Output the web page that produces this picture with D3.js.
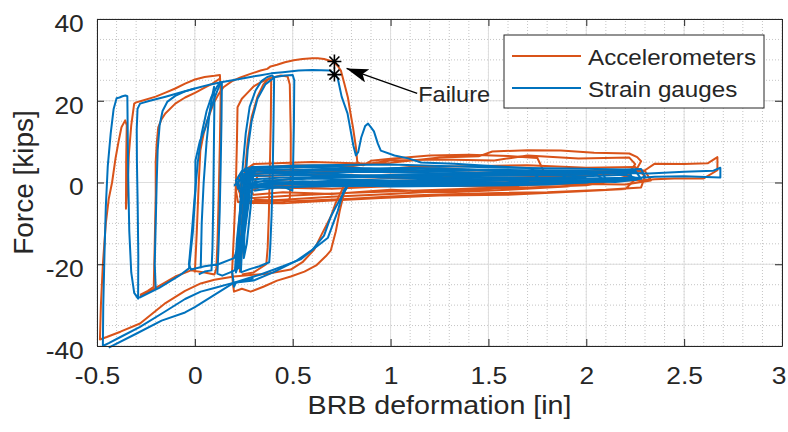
<!DOCTYPE html>
<html>
<head>
<meta charset="utf-8">
<script src="https://cdn.jsdelivr.net/npm/d3@7"></script>
<style>
  body { margin: 0; background: #fff; }
  text { font-family: "Liberation Sans", Arial, Helvetica, sans-serif; fill: #262626; }
</style>
</head>
<body>
<script>
// ---- data ----
const xTicks = [-0.5, 0, 0.5, 1, 1.5, 2, 2.5, 3];
const yTicks = [-40, -20, 0, 20, 40];
const seriesNames = ["Accelerometers", "Strain gauges"];
const seriesColors = ["#D95319", "#0072BD"];
const failurePoints = [[0.713, 29.6], [0.713, 26.4]];

// accelerometer-based force / deformation, one array per traced branch
const accelLoops = [
  [[0.24,0],[0.27,3.5],[0.255,-6],[0.23,-15],[0.21,-20.5],[0.225,-10],[0.25,0],[0.28,3.8],[0.26,-8],[0.24,-17],[0.23,-21],[0.245,-9],[0.27,1]],
  [[0.76,-1],[0.72,-5],[0.695,-8.3],[0.65,-12.5],[0.61,-16.4],[0.55,-19.5],[0.49,-21.3],[0.37,-22.3],[0.2,-23],[0.1,-23.8],[0.03,-24.7],
   [-0.05,-26.5],[-0.15,-29.5],[-0.28,-34.5],[-0.38,-36.5],[-0.45,-37.8],[-0.485,-38.4],[-0.48,-30],[-0.47,-20],[-0.455,-10],[-0.44,-4],
   [-0.423,0],[-0.405,6],[-0.39,10],[-0.375,13.5],[-0.356,15.2],[-0.348,14],[-0.351,5],[-0.352,-6.4],[-0.345,-2],[-0.337,7],[-0.325,14],
   [-0.31,19.3],[-0.3,19.6],[-0.27,20],[-0.2,21],[-0.15,22],[-0.1,23],[-0.05,24.2],[0,25.2],[0.05,25.8],[0.1,26.1],[0.128,26.3],
   [0.132,22],[0.128,10],[0.122,-3],[0.116,-14],[0.11,-21],[0.1,-22.5],[0.05,-22],[-0.02,-21.5],[-0.1,-23],[-0.2,-25.8],[-0.28,-27.8]],
  [[-0.28,-27.5],[-0.24,-26.5],[-0.21,-25.5],[-0.205,-15],[-0.2,-3],[-0.2,5],[-0.195,9.5],[-0.187,13.5],[-0.17,15.5],[-0.151,16.9],
   [-0.1,19.3],[-0.05,20.8],[0.003,22],[0.05,23.2],[0.09,24.2],[0.13,25.5]],
  [[0.19,-22],[0.2,-12],[0.21,0],[0.215,10],[0.218,18.4],[0.24,20.5],[0.27,22],[0.3,23.5],[0.336,24.5],[0.39,25.6],[0.44,26.2],
   [0.474,25.9],[0.485,24],[0.49,12],[0.49,2],[0.485,-4],[0.45,-5],[0.35,-4.5],[0.25,-4.8]],
  [[0.23,-22],[0.24,-10],[0.255,2],[0.27,10],[0.29,16],[0.32,21],[0.35,24],[0.38,25.5],[0.39,25],[0.388,15],[0.383,3],[0.378,-8],
   [0.372,-16],[0.365,-20],[0.3,-22],[0.24,-22.5]],
  [[0.19,-22],[0.195,-25],[0.2,-26.7],[0.24,-26],[0.285,-26.7],[0.35,-25.5],[0.42,-24],[0.49,-23],[0.56,-21.8],[0.62,-20.3],
   [0.67,-18],[0.695,-16.6],[0.72,-12],[0.74,-7],[0.76,-3],[0.78,0]],
  [[0,-22],[0.01,-12],[0.02,0],[0.028,7.8],[0.045,12],[0.064,15.2],[0.095,19.3],[0.12,21.5],[0.146,23.3],[0.19,24.8],[0.233,25.7],
   [0.28,26.5],[0.336,27.4],[0.37,27.8],[0.387,28.4],[0.42,28.8],[0.46,29.4],[0.505,29.9],[0.55,30.2],[0.6,30.4],[0.628,30.4],
   [0.66,30.2],[0.69,29.8],[0.71,29.5],[0.73,28.5],[0.746,27.4],[0.765,24],[0.782,20.8],[0.795,17],[0.808,13.5],[0.823,8.6],
   [0.83,5],[0.86,4.2],[0.9,5.3],[1,5.8],[1.2,6.6],[1.4,6.8],[1.6,6.5],[1.75,6],[1.78,3],[1.75,0],[1.6,-1.2],[1.3,-2],[1,-2.8],
   [0.7,-3.5],[0.45,-4.2],[0.3,-4.6],[0.22,-4.8],[0.21,-2],[0.24,2.5],[0.3,4.5],[0.6,5],[0.9,4.6],[1,4.8],[1.25,6.1],[1.45,6.4],
   [1.52,7.6],[1.7,7.9],[1.87,7.8],[2.04,7.3],[2.22,7.1],[2.26,6.2],[2.28,5.2],[2.26,3.5],[2.2,1],[2,-0.7],[1.7,-1.2],[1.4,-1.5],
   [1.1,-2],[0.8,-2.5],[0.5,-3.2],[0.3,-3.8],[0.23,-3.5],[0.24,0],[0.28,3.5],[0.5,4.2],[0.8,4],[1,5.4],[1.25,5.6],[1.53,5.4],
   [1.7,6.6],[1.96,5.9],[2.22,6.1],[2.25,4.5],[2.2,1],[1.9,-1],[1.6,-1.8],[1.3,-2.4],[1,-1.8],[0.7,-2.8],[0.45,-2.4],[0.3,-3],
   [0.26,-1],[0.3,2],[0.6,3],[1,2.5],[1.4,3],[1.8,2.6],[2.2,2.9],[2.3,2.8],[2.33,0.5],[2.2,-0.5],[1.9,-0.3],[1.5,-1],[1.1,-0.7],
   [0.7,-1.5],[0.4,-1.2],[0.3,-0.5],[0.32,1.5],[0.6,2],[1,1.5],[1.5,2.2],[2,2],[2.3,3],[2.35,4.6],[2.5,4.5],[2.62,4.7],[2.67,6.2],
   [2.67,3],[2.6,1],[2.45,1],[2.35,0.8],[2.3,0.6],[2,0.2],[1.5,0],[1,-0.5],[0.6,-1],[0.4,-0.8]],
  [[0.3,-4.2],[0.5,-4.6],[0.8,-4],[1,-3.4],[1.2,-3],[1.5,-2.6],[1.8,-2.4],[2.1,-1.8],[2.28,-1.2],[2.3,1.5],[2.25,3.8],[2,3.6],
   [1.7,4.2],[1.4,4],[1.1,3.8],[0.8,2.5],[0.5,3.2],[0.28,2.6],[0.22,-1.5],[0.25,-5],[0.45,-5.1],[0.7,-4.4],[0.95,-3.8],[1.25,-3.2],
   [1.6,-3],[1.95,-2.2],[2.2,-1.6],[2.25,0.8],[2.15,2.2],[1.9,1.4],[1.5,1.8],[1.1,1],[0.7,1.5],[0.4,0.5],[0.27,-2.5]]
];

// strain-gauge-based force / deformation
const gaugeLoops = [
  [[0.25,0.5],[0.27,2.6],[0.26,-4],[0.24,-12],[0.215,-19],[0.205,-21.5],[0.215,-14],[0.235,-5],[0.255,1.5],[0.28,3],[0.265,-6],
   [0.24,-15],[0.22,-20.5],[0.21,-22],[0.225,-13],[0.245,-3],[0.27,2],[0.29,3.2],[0.275,-5],[0.25,-14],[0.23,-19],[0.225,-21],
   [0.24,-11],[0.26,-1],[0.3,2.8],[0.285,-6],[0.265,-15],[0.25,-18.5],[0.255,-10],[0.28,0],[0.31,3]],
  [[0.28,-3],[0.25,-12],[0.2,-18.5],[0.12,-20],[0.05,-20.5],[-0.02,-21.3],[-0.03,-20],[-0.015,-12],[0,-3],[0.015,5],[0.035,12],
   [0.06,17.5],[0.085,21],[0.11,23.2],[0.13,24.6],[0.138,24.3],[0.136,15],[0.132,4],[0.127,-7],[0.12,-17],[0.115,-22.3],[0.14,-22.8],
   [0.19,-21.8],[0.22,-21]],
  [[0.03,-21],[0.035,-10],[0.045,0],[0.06,10],[0.075,17],[0.09,21.5],[0.098,23.4],[0.1,20],[0.097,8],[0.094,-5],[0.09,-16],
   [0.085,-21.5],[0.05,-21.8],[0.02,-22.5]],
  [[0.22,-21],[0.225,-14],[0.232,-5],[0.245,4],[0.26,12],[0.28,18.5],[0.31,22.5],[0.34,24.8],[0.37,25.8],[0.395,26.2],[0.405,25.5],
   [0.402,15],[0.398,3],[0.392,-8],[0.385,-16],[0.38,-19.5],[0.33,-20.5],[0.28,-21.2],[0.235,-22]],
  [[0.235,-22],[0.245,-12],[0.255,-2],[0.27,8],[0.29,15],[0.32,20.5],[0.36,24],[0.41,25.8],[0.46,26.2],[0.5,26.3],[0.508,25],
   [0.506,14],[0.502,4],[0.498,-2],[0.45,-1],[0.38,-1.5],[0.3,-2]],
  [[-0.285,-28.2],[-0.18,-25.7],[-0.08,-22.8],[-0.03,-21],[-0.01,-12],[0.003,-2],[0.003,5.4],[0.025,10],[0.054,13.5],[0.075,17],
   [0.095,20],[0.115,22.5],[0.13,24.2]],
  [[-0.2,-26],[-0.205,-20],[-0.2,-10],[-0.195,0],[-0.19,8],[-0.18,14],[-0.165,17.5],[-0.14,19.8],[-0.1,21.2],[-0.05,22.3],[0,23]],
  [[-0.44,-40.4],[-0.3,-37],[-0.17,-33.8],[-0.05,-31.8],[0,-30.5],[0.1,-27.5],[0.2,-24.5],[0.3,-24],[0.4,-22],[0.52,-19.1],
   [0.6,-16.5],[0.68,-13.5],[0.73,-7],[0.76,-2],[0.8,0.5]],
  [[0.19,-21.5],[0.2,-25.5],[0.21,-24.5],[0.3,-23.5]],
  [[0.78,-1],[0.72,-6],[0.695,-8.3],[0.66,-13],[0.6,-16.5],[0.54,-18.8],[0.45,-20.5],[0.336,-22.5],[0.2,-24.5],[0.1,-25.8],
   [0.03,-26.7],[-0.05,-28.5],[-0.15,-31.5],[-0.28,-35.3],[-0.38,-37.8],[-0.44,-39.3],[-0.47,-40],[-0.468,-30],[-0.462,-18],
   [-0.455,-6],[-0.445,4],[-0.43,12],[-0.415,18],[-0.4,20.6],[-0.385,20.8],[-0.37,21.1],[-0.355,21.3],[-0.345,21.1],[-0.343,12],
   [-0.34,0],[-0.335,-12],[-0.325,-22],[-0.31,-27],[-0.29,-28.4],[-0.289,-18],[-0.292,-6],[-0.296,5],[-0.297,13],[-0.293,18],
   [-0.28,19.3],[-0.23,20],[-0.15,21],[-0.074,22],[0,23],[0.08,24],[0.14,24.6],[0.2,25.1],[0.27,25.7],[0.33,26.2],[0.39,26.7],
   [0.45,27],[0.53,27.4],[0.6,27.5],[0.69,27.4],[0.713,26.6],[0.73,25.5],[0.75,21],[0.78,16.9],[0.81,9],[0.823,6.6],[0.835,7.5],
   [0.85,11],[0.87,13.8],[0.885,14.4],[0.9,13.5],[0.915,12.5],[0.935,9.5],[0.95,7.8],[1.02,6.6],[1.09,5.9],[1.156,4.9],[1.325,4.6],
   [1.45,4.2],[1.6,3.8],[1.72,3.5],[1.75,1.5],[1.7,0.2],[1.5,-0.3],[1.2,-0.6],[0.9,-0.8],[0.6,-1],[0.35,-1.2],[0.22,-1.5],[0.21,0.5],
   [0.24,2.8],[0.4,3.2],[0.7,3],[1,2.8],[1.3,3.1],[1.6,3],[1.85,2.9],[1.9,1],[1.85,-0.2],[1.5,-0.5],[1.1,-0.2],[0.8,-0.6],[0.5,-0.4],
   [0.28,-0.8],[0.23,-2.2],[0.22,1.2],[0.26,3.5],[0.5,3.8],[0.8,3.3],[1.1,3.6],[1.4,3.2],[1.7,3],[2,2.8],[2.08,2.6],[2.1,0.8],[2,0],
   [1.7,-0.1],[1.3,0.2],[0.9,-0.3],[0.55,0.3],[0.3,-0.5],[0.24,-1.8],[0.235,0.8],[0.27,2.2],[0.55,2.4],[0.9,2.6],[1.3,2.2],[1.7,2.5],
   [2.1,2.3],[2.22,2.5],[2.24,0.6],[2.15,0.1],[1.8,0.4],[1.4,0.7],[1,0.5],[0.6,1],[0.35,0.4],[0.26,-0.6],[0.25,1.6],[0.29,3.8],
   [0.6,4.2],[1,4.4],[1.3,4],[1.6,3.6],[1.9,3.4],[2.2,3.2],[2.28,3.3],[2.3,1.5],[2.25,0.6],[2,0.9],[1.6,1.2],[1.2,1],[0.8,1.4],
   [0.45,1.2],[0.3,0.8],[0.27,2],[0.32,3],[0.6,1.8],[1,1.7],[1.4,1.9],[1.8,2.1],[2.25,2.3],[2.32,2.2],[2.5,2.6],[2.65,2.9],
   [2.685,3.6],[2.685,1.2],[2.5,1.5],[2.35,1.4],[2.3,1.2],[2,1],[1.6,0.5],[1.2,0.3],[0.8,0.6],[0.5,0],[0.35,0.2]],
  [[0.22,0.5],[0.3,2.2],[0.6,2.9],[0.9,3.4],[1.2,2.7],[1.5,2.4],[1.8,2.2],[2.05,2],[2.1,0.3],[1.8,-0.5],[1.4,-0.8],[1,-1],
   [0.7,-0.4],[0.45,-1.3],[0.25,-0.6],[0.23,1.8],[0.35,3.6],[0.7,3.9],[1,3.1],[1.25,3.5],[1.55,2.8],[1.9,2.6],[2.25,2.9],[2.28,0.9],
   [2.1,0.5],[1.7,0.8],[1.3,0.1],[0.9,0.4],[0.55,-0.2],[0.3,0.3]],
  [[0.2,-0.8],[0.25,1.5],[0.5,1.9],[0.8,1.6],[1.15,2],[1.45,1.6],[1.75,1.8],[2,1.5],[2.2,1.9],[2.26,1],[2,0.4],[1.6,-0.2],
   [1.25,-0.4],[0.95,0.2],[0.65,-0.3],[0.4,0],[0.28,-1],[0.24,0.8],[0.3,3],[0.45,2.6],[0.7,2.2],[0.95,1.2],[1.2,1.4],[1.6,1],[2,1.2]]
];

// ---- layout ----
const width = 788, height = 432;
const margin = { top: 19, right: 6, bottom: 86, left: 97 };
const stretch = "scale(1.1,1)";

const svg = d3.select("body").append("svg")
  .attr("width", width)
  .attr("height", height);

const x = d3.scaleLinear().domain([-0.5, 3]).range([margin.left, width - margin.right]);
const y = d3.scaleLinear().domain([-40, 40]).range([height - margin.bottom, margin.top]);

// grid
const grid = svg.append("g").attr("id", "grid");
grid.selectAll(".xminor").data(d3.range(-5, 31).map(i => i / 10)).enter().append("line")
  .attr("x1", d => x(d)).attr("x2", d => x(d))
  .attr("y1", y(-40)).attr("y2", y(40))
  .attr("stroke", "#c4c4c4").attr("stroke-dasharray", "1,2");
grid.selectAll(".yminor").data(d3.range(-8, 9).map(i => i * 5)).enter().append("line")
  .attr("y1", d => y(d)).attr("y2", d => y(d))
  .attr("x1", x(-0.5)).attr("x2", x(3))
  .attr("stroke", "#c4c4c4").attr("stroke-dasharray", "1,2");
grid.selectAll(".xmajor").data(xTicks).enter().append("line")
  .attr("x1", d => x(d)).attr("x2", d => x(d))
  .attr("y1", y(-40)).attr("y2", y(40))
  .attr("stroke", "#dedede");
grid.selectAll(".ymajor").data(yTicks).enter().append("line")
  .attr("y1", d => y(d)).attr("y2", d => y(d))
  .attr("x1", x(-0.5)).attr("x2", x(3))
  .attr("stroke", "#dedede");

// curves
const line = d3.line().x(d => x(d[0])).y(d => y(d[1]));
const curves = svg.append("g").attr("id", "curves")
  .attr("fill", "none").attr("stroke-width", 2).attr("stroke-linejoin", "round");
[accelLoops, gaugeLoops].forEach(function(loops, i) {
  curves.append("g").selectAll("path")
    .data(loops).enter().append("path")
    .attr("d", line)
    .attr("stroke", seriesColors[i]);
});

// axes (box with inward ticks)
const fmt = d => String(d);
const axes = svg.append("g").attr("id", "axes");
const axB = axes.append("g").attr("transform", `translate(0,${y(-40)})`)
  .call(d3.axisBottom(x).tickValues(xTicks).tickFormat(fmt).tickSize(-7).tickSizeOuter(0).tickPadding(21));
axes.append("g").attr("transform", `translate(0,${y(40)})`)
  .call(d3.axisTop(x).tickValues(xTicks).tickFormat("").tickSize(-7).tickSizeOuter(0));
const axL = axes.append("g").attr("transform", `translate(${x(-0.5)},0)`)
  .call(d3.axisLeft(y).tickValues(yTicks).tickFormat(fmt).tickSize(-7).tickSizeOuter(0).tickPadding(12));
axes.append("g").attr("transform", `translate(${x(3)},0)`)
  .call(d3.axisRight(y).tickValues(yTicks).tickFormat("").tickSize(-7).tickSizeOuter(0));
axes.selectAll("path.domain").attr("stroke", "#262626");
axes.selectAll(".tick line").attr("stroke", "#262626");
axes.selectAll("text").attr("font-size", 24).attr("fill", "#262626")
  .attr("font-family", "Liberation Sans, Arial, sans-serif").attr("transform", stretch);
axL.selectAll("text").attr("dy", "0.52em");
axB.selectAll("text").filter(d => d === 3).attr("dx", -3);

// axis labels
svg.append("text")
  .attr("transform", `translate(${(x(-0.5) + x(3)) / 2},414) ${stretch}`)
  .attr("text-anchor", "middle").attr("font-size", 26)
  .text("BRB deformation [in]");
svg.append("text")
  .attr("transform", `translate(33,${(y(-40) + y(40)) / 2}) rotate(-90)`)
  .attr("text-anchor", "middle").attr("font-size", 28)
  .text("Force [kips]");

// failure markers
const star = svg.append("g").attr("id", "failure");
star.selectAll("path").data(failurePoints).enter().append("path")
  .attr("transform", d => `translate(${x(d[0])},${y(d[1])})`)
  .attr("d", "M-7,0H7M0,-7V7M-5,-5L5,5M-5,5L5,-5")
  .attr("stroke", "#000").attr("stroke-width", 1.6).attr("fill", "none");

svg.append("defs").append("marker")
  .attr("id", "head").attr("viewBox", "0 -7 22 14")
  .attr("refX", 22).attr("refY", 0)
  .attr("markerWidth", 22).attr("markerHeight", 14)
  .attr("markerUnits", "userSpaceOnUse").attr("orient", "auto")
  .append("path").attr("d", "M0,-7L22,0L0,7L5,0Z").attr("fill", "#000");

const tail = [1.136, 21.8], tip = [0.775, 27.9];
star.append("line")
  .attr("x1", x(tail[0])).attr("y1", y(tail[1]))
  .attr("x2", x(tip[0])).attr("y2", y(tip[1]))
  .attr("stroke", "#000").attr("stroke-width", 1.4)
  .attr("marker-end", "url(#head)");
star.append("text")
  .attr("transform", `translate(${x(tail[0]) + 1},${y(tail[1]) + 9}) scale(1.07,1)`)
  .attr("font-size", 22).attr("fill", "#000")
  .text("Failure");

// legend
const lg = svg.append("g").attr("id", "legend").attr("transform", "translate(504,35)");
lg.append("rect").attr("width", 260).attr("height", 73)
  .attr("fill", "#fff").attr("stroke", "#262626").attr("stroke-width", 1);
const item = lg.selectAll(".item").data(seriesNames).enter().append("g")
  .attr("transform", (d, i) => `translate(0,${21 + i * 32})`);
item.append("line").attr("x1", 8).attr("x2", 77)
  .attr("stroke", (d, i) => seriesColors[i]).attr("stroke-width", 2);
item.append("text")
  .attr("transform", `translate(84,9) scale(1.1,1)`)
  .attr("font-size", 22)
  .text(d => d);
</script>
</body>
</html>
